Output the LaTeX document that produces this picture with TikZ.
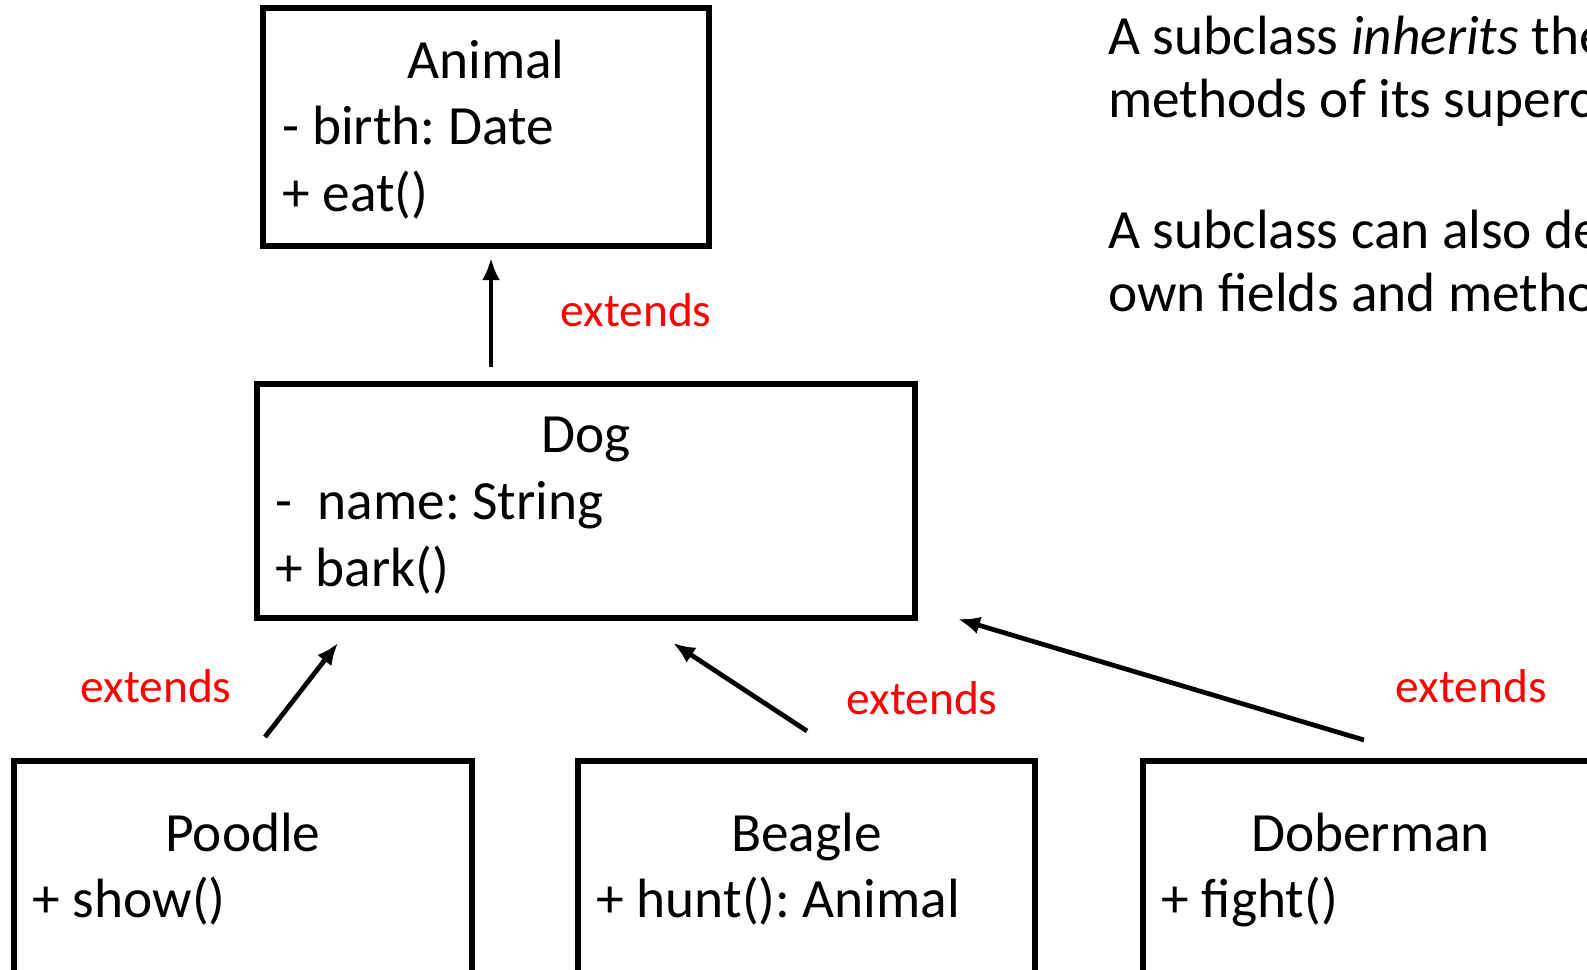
\documentclass[tikz,border=0pt]{standalone}
\usepackage{fontspec}
\setmainfont{Carlito}
\frenchspacing
\usetikzlibrary{arrows.meta}
\usetikzlibrary{positioning}
\usetikzlibrary{calc}

\tikzset{
  classbox/.style={draw, line width=3pt, inner sep=0pt},
  classname/.style={anchor=base, inner sep=0pt, font=\fontsize{31.5}{37}\selectfont},
  member/.style={anchor=base west, inner sep=0pt, font=\fontsize{31.5}{37}\selectfont},
  extlabel/.style={red, inner sep=0pt, font=\fontsize{27}{32}\selectfont},
  note/.style={anchor=base west, inner sep=0pt, font=\fontsize{31.5}{37}\selectfont},
  extarrow/.style={line width=2.7pt, -{Latex[length=4.4mm, width=3.6mm]}}
}

\begin{document}
\begin{tikzpicture}[x=0.2mm, y=-0.2mm]
    \useasboundingbox (0,0) rectangle (1587,970);
    \clip (0,0) rectangle (1587,970);
    % Classes
    \node[classbox, minimum width=89.2mm, minimum height=47.6mm] (animal) at (486,127) {};
    \node[classname] (animal-name) at ([yshift=-14.6mm]animal.north) {Animal};
    \node[member] (animal-field) at ([shift={(4.4mm,-27.8mm)}]animal.north west) {- birth: Date};
    \node[member] (animal-method) at ([shift={(4.4mm,-41.2mm)}]animal.north west) {+ eat()};

    \node[classbox, minimum width=131.6mm, minimum height=46.8mm] (dog) at (586,501) {};
    \node[classname] (dog-name) at ([yshift=-14.2mm]dog.north) {Dog};
    \node[member] (dog-field) at ([shift={(4.2mm,-27.6mm)}]dog.north west) {-~~name: String};
    \node[member] (dog-method) at ([shift={(4.2mm,-41mm)}]dog.north west) {+ bark()};

    \node[classbox, minimum width=91.6mm, minimum height=45.8mm] (poodle) at (243,875.5) {};
    \node[classname] (poodle-name) at ([yshift=-18.6mm]poodle.north) {Poodle};
    \node[member] (poodle-method) at ([shift={(4.2mm,-31.8mm)}]poodle.north west) {+ show()};

    \node[classbox, minimum width=91.4mm, minimum height=45.8mm] (beagle) at (806.5,875.5) {};
    \node[classname] (beagle-name) at ([yshift=-18.6mm]beagle.north) {Beagle};
    \node[member] (beagle-method) at ([shift={(4.2mm,-31.8mm)}]beagle.north west) {+ hunt(): Animal};

    \node[classbox, minimum width=93.4mm, minimum height=45.8mm] (doberman) at (1376.5,875.5) {};
    \node[classname] (doberman-name) at ([shift={(-1.2mm,-18.6mm)}]doberman.north) {Doberman};
    \node[member] (doberman-method) at ([shift={(4.2mm,-31.8mm)}]doberman.north west) {+ fight()};

    % Arrow ends
    \coordinate (dog-out) at (491,367);
    \coordinate (animal-in) at (491,258);
    \coordinate (poodle-out) at (265,737);
    \coordinate (dog-in-a) at (338,643);
    \coordinate (beagle-out) at (807,731);
    \coordinate (dog-in-b) at (673,643);
    \coordinate (doberman-out) at (1364,740);
    \coordinate (dog-in-c) at (958,619);

    % Inheritance
    \draw[extarrow] (dog-out) -- (animal-in);
    \draw[extarrow] (poodle-out) -- (dog-in-a);
    \draw[extarrow] (beagle-out) -- (dog-in-b);
    \draw[extarrow] (doberman-out) -- (dog-in-c);
    \node[extlabel] (ext-dog) at (636,310) {extends};
    \node[extlabel] (ext-poodle) at (156,686) {extends};
    \node[extlabel] (ext-beagle) at (922,698) {extends};
    \node[extlabel] (ext-doberman) at (1471,686) {extends};

    % Notes
    \node[note] (note-a) at (1108,55) {A subclass \textit{inherits} the fields and};
    \node[note] (note-b) at (1108,118) {methods of its superclass.};
    \node[note] (note-c) at (1108,248) {A subclass can also define its};
    \node[note] (note-d) at (1108,311) {own fields and methods.};
\end{tikzpicture}
\end{document}
